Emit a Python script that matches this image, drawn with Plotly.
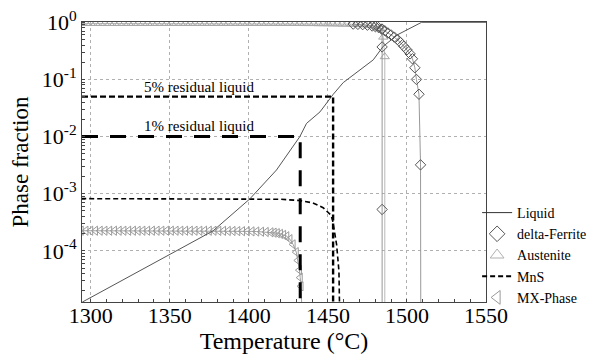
import math
import plotly.graph_objects as go

# ---------------- data ----------------
liquid_T = [1294.7, 1350, 1377.4, 1400.6, 1417.5, 1432.3, 1436.5, 1445, 1453.4,
            1459.7, 1478.7, 1485, 1494.3, 1509.3, 1550]
liquid_f = [1.27e-5, 8.7e-5, 2.24e-4, 8.1e-4, 2.6e-3, 1.0e-2, 1.7e-2, 2.7e-2, 5.5e-2,
            8.8e-2, 0.22, 0.38, 0.61, 1.0, 1.0]

ferrite_T = [1466, 1469, 1472, 1475, 1478, 1480, 1482, 1484, 1486, 1488, 1490, 1492,
             1494, 1496, 1498, 1500, 1502, 1503.5, 1505, 1506, 1507.6, 1508.6, 1508.8]
ferrite_f = [0.93, 0.92, 0.91, 0.89, 0.86, 0.84, 0.81, 0.76, 0.71, 0.65, 0.60, 0.55,
             0.50, 0.44, 0.38, 0.33, 0.28, 0.23, 0.16, 0.10, 0.055, 0.0032, 1e-6]
ferrite_drop_T = [1484.3, 1484.3, 1484.3, 1484.3]
ferrite_drop_f = [0.76, 0.37, 5.3e-4, 1e-6]

aust_T = [1294, 1297, 1300, 1303, 1306, 1309, 1312, 1315, 1318, 1321, 1324, 1327,
          1330, 1333, 1336, 1339, 1342, 1345, 1348, 1351, 1354, 1357, 1360, 1363,
          1366, 1369, 1372, 1375, 1378, 1381, 1384, 1387, 1390, 1393, 1396, 1399,
          1402, 1405, 1408, 1411, 1414, 1417, 1420, 1423, 1426, 1429, 1432, 1435,
          1438, 1441, 1444, 1447, 1450, 1453, 1456, 1459, 1462, 1465, 1468, 1471,
          1474, 1477, 1479, 1481, 1483, 1485, 1486, 1486]
aust_f = [0.955, 0.955, 0.955, 0.955, 0.955, 0.955, 0.955, 0.955, 0.955, 0.955, 0.955, 0.955,
          0.955, 0.955, 0.955, 0.955, 0.955, 0.955, 0.955, 0.955, 0.955, 0.955, 0.955, 0.955,
          0.955, 0.955, 0.955, 0.955, 0.955, 0.955, 0.955, 0.955, 0.955, 0.955, 0.955, 0.955,
          0.955, 0.955, 0.955, 0.955, 0.955, 0.955, 0.955, 0.955, 0.955, 0.955, 0.955, 0.95,
          0.95, 0.95, 0.945, 0.945, 0.94, 0.94, 0.935, 0.93, 0.93, 0.925, 0.92, 0.91,
          0.90, 0.88, 0.86, 0.83, 0.78, 0.55, 0.25, 1e-6]

mns_T = [1294, 1400, 1420, 1432, 1440.5, 1447, 1452, 1453, 1455.5, 1457, 1457.6, 1458]
mns_f = [8.2e-4, 8.1e-4, 8.0e-4, 7.6e-4, 6.9e-4, 5.7e-4, 4.2e-4, 3.4e-4, 1.3e-4,
         4.4e-5, 1.3e-5, 1e-6]

mx_T = [1294, 1297, 1300, 1303, 1306, 1309, 1312, 1315, 1318, 1321, 1324, 1327, 1330,
        1333, 1336, 1339, 1342, 1345, 1348, 1351, 1354, 1357, 1360, 1363, 1366, 1369,
        1372, 1375, 1378, 1381, 1384, 1387, 1390, 1393, 1396, 1399, 1402, 1405, 1408,
        1411, 1414, 1416, 1418, 1420, 1422, 1424, 1426, 1428, 1430, 1431, 1432, 1432.5,
        1433, 1435]
mx_f = [2.25e-4, 2.25e-4, 2.25e-4, 2.25e-4, 2.25e-4, 2.25e-4, 2.25e-4, 2.25e-4, 2.25e-4,
        2.25e-4, 2.25e-4, 2.25e-4, 2.25e-4, 2.25e-4, 2.25e-4, 2.25e-4, 2.25e-4, 2.25e-4,
        2.25e-4, 2.25e-4, 2.25e-4, 2.25e-4, 2.25e-4, 2.25e-4, 2.25e-4, 2.25e-4, 2.25e-4,
        2.25e-4, 2.25e-4, 2.24e-4, 2.24e-4, 2.23e-4, 2.23e-4, 2.22e-4, 2.21e-4, 2.2e-4,
        2.19e-4, 2.18e-4, 2.16e-4, 2.14e-4, 2.11e-4, 2.08e-4, 2.04e-4, 1.98e-4, 1.9e-4,
        1.8e-4, 1.6e-4, 1.3e-4, 9.5e-5, 6.8e-5, 4.6e-5, 3.4e-5, 2.4e-5, 1e-6]

residual_levels = [0.05, 0.01]
residual_T = [1453.3, 1432.5]
residual_labels = ["5% residual liquid", "1% residual liquid"]
residual_label_T = [1368.5, 1368.5]
residual_label_f = [0.074, 0.0152]

x_ticks = [1300, 1350, 1400, 1450, 1500, 1550]
y_tickvals = [1e-4, 1e-3, 1e-2, 1e-1, 1]
y_ticktext = ["10<sup>-4</sup>", "10<sup>-3</sup>", "10<sup>-2</sup>", "10<sup>-1</sup>", "10<sup>0</sup>"]

x_range = [1294.5, 1550]
y_floor = 1e-6

FONT = "Liberation Serif"

fig = go.Figure()

# MX-Phase
fig.add_trace(go.Scatter(x=mx_T, y=mx_f, mode="lines+markers", showlegend=False,
                         line=dict(color="#a0a0a0", width=1),
                         marker=dict(symbol="triangle-left-open", size=8,
                                     color="#9a9a9a", line=dict(width=1))))
# MnS
fig.add_trace(go.Scatter(x=mns_T, y=mns_f, mode="lines", showlegend=False,
                         line=dict(color="black", width=1.6, dash="5px,3px")))
# Austenite
fig.add_trace(go.Scatter(x=aust_T, y=aust_f, mode="lines+markers", showlegend=False,
                         line=dict(color="#b8b8b8", width=1),
                         marker=dict(symbol="triangle-up-open", size=8,
                                     color="#a8a8a8", line=dict(width=1))))
# delta-Ferrite
fig.add_trace(go.Scatter(x=ferrite_T, y=ferrite_f, mode="lines+markers", showlegend=False,
                         line=dict(color="#999999", width=1),
                         marker=dict(symbol="diamond-open", size=8,
                                     color="#555555", line=dict(width=1))))
fig.add_trace(go.Scatter(x=ferrite_drop_T, y=ferrite_drop_f, mode="lines+markers",
                         showlegend=False,
                         line=dict(color="#999999", width=1),
                         marker=dict(symbol="diamond-open", size=8,
                                     color="#555555", line=dict(width=1))))
# Liquid
fig.add_trace(go.Scatter(x=liquid_T, y=liquid_f, mode="lines", showlegend=False,
                         line=dict(color="#555555", width=1)))

# residual liquid guide lines
dashes = ["6px,3px", "16px,12px"]
widths = [2.4, 3]
for lvl, T, d, w in zip(residual_levels, residual_T, dashes, widths):
    fig.add_trace(go.Scatter(x=[x_range[0], T, T], y=[lvl, lvl, y_floor], mode="lines",
                             showlegend=False, line=dict(color="black", width=w, dash=d)))
for txt, T, f in zip(residual_labels, residual_label_T, residual_label_f):
    fig.add_annotation(x=T, y=math.log10(f), text=txt, showarrow=False,
                       font=dict(family=FONT, size=15, color="black"))

# legend-only entries
fig.add_trace(go.Scatter(x=[None], y=[None], mode="lines", name="Liquid",
                         line=dict(color="#333333", width=1)))
fig.add_trace(go.Scatter(x=[None], y=[None], mode="markers", name="delta-Ferrite",
                         marker=dict(symbol="diamond-open", size=12, color="#555555",
                                     line=dict(width=1))))
fig.add_trace(go.Scatter(x=[None], y=[None], mode="markers", name="Austenite",
                         marker=dict(symbol="triangle-up-open", size=12, color="#b0b0b0",
                                     line=dict(width=1))))
fig.add_trace(go.Scatter(x=[None], y=[None], mode="lines", name="MnS",
                         line=dict(color="black", width=2, dash="5px,3px")))
fig.add_trace(go.Scatter(x=[None], y=[None], mode="markers", name="MX-Phase",
                         marker=dict(symbol="triangle-left-open", size=12, color="#9a9a9a",
                                     line=dict(width=1))))

fig.update_layout(
    width=595, height=356,
    margin=dict(l=82, r=109, t=22, b=54, autoexpand=False),
    paper_bgcolor="white", plot_bgcolor="white",
    font=dict(family=FONT, color="black"),
    legend=dict(x=0.978, xanchor="left", y=0.375, yanchor="top",
                font=dict(family=FONT, size=14, color="black"),
                bgcolor="rgba(0,0,0,0)", itemwidth=30),
)
fig.update_xaxes(range=x_range, tickmode="array", tickvals=x_ticks,
                 tickfont=dict(size=22, family=FONT), ticklabelstandoff=-6, ticklen=0,
                 showgrid=True, gridcolor="#b0b0b0", griddash="dot", gridwidth=1,
                 showline=True, linecolor="#444444", linewidth=1, mirror=True,
                 ticks="", zeroline=False,
                 minor=dict(dtick=10, tick0=1300, ticks="inside", ticklen=3,
                            tickcolor="#444444", showgrid=False),
                 title=dict(text="Temperature (°C)", font=dict(size=24, family=FONT),
                            standoff=4))
fig.update_yaxes(type="log", range=[-4.895, 0.005], tickmode="array",
                 tickvals=y_tickvals, ticktext=y_ticktext,
                 tickfont=dict(size=22, family=FONT),
                 showgrid=True, gridcolor="#b0b0b0", griddash="dot", gridwidth=1,
                 showline=True, linecolor="#444444", linewidth=1, mirror=True,
                 ticks="", zeroline=False,
                 minor=dict(dtick="D1", ticks="inside", ticklen=3,
                            tickcolor="#444444", showgrid=False),
                 title=dict(text="Phase fraction", font=dict(size=23, family=FONT),
                            standoff=6))

fig.write_html("out.html")
